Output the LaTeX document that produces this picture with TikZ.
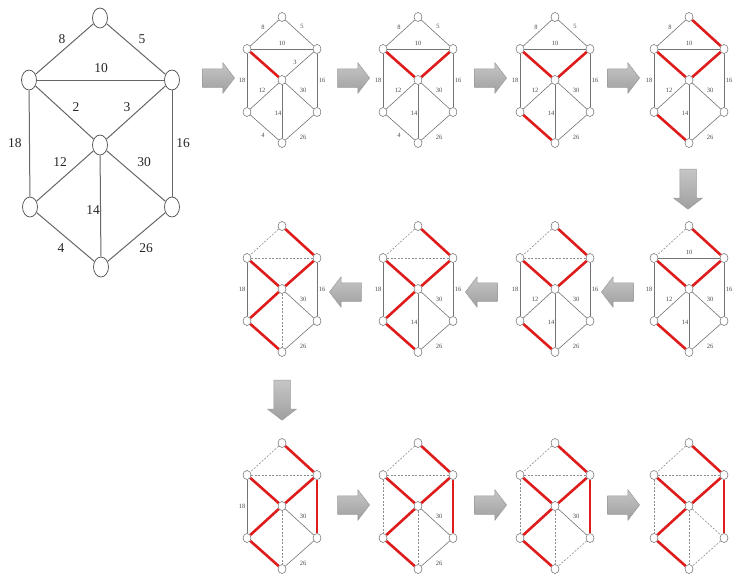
\documentclass[tikz,border=0pt]{standalone}
\usepackage{fontspec}
\setmainfont{Liberation Serif}
\usetikzlibrary{shapes.geometric,shapes.arrows,calc}
\definecolor{kred}{RGB}{222,28,28}
\tikzset{
 mv/.style={ellipse,draw=black!70,fill=white,line width=0.7pt,minimum width=15pt,minimum height=20pt,inner sep=0pt},
 me/.style={draw=black!60,line width=1pt},
 ml/.style={font=\fontsize{13.5}{14}\selectfont,text=black!85,inner sep=0pt},
 sv/.style={ellipse,draw=black!60,fill=white,line width=0.5pt,minimum width=8pt,minimum height=9pt,inner sep=0pt},
 ne/.style={draw=black!55,line width=0.6pt},
 re/.style={draw=kred,line width=2.6pt},
 de/.style={draw=black!45,line width=0.6pt,dash pattern=on 2pt off 1.5pt},
 sl/.style={font=\fontsize{6.5}{7}\selectfont,text=black!70,inner sep=0pt},
 ba/.style={single arrow,top color=gray!45,bottom color=gray!75,draw=gray!80,line width=0.5pt,minimum width=0pt,minimum height=32pt,single arrow head extend=6pt,single arrow tip angle=105,inner xsep=0pt,inner ysep=9pt}
}
\newcommand\kstep[4]{%
 \begin{scope}[shift={(#2,#3)}]
  \node[sv] (#1T) at (0,0) {};
  \node[sv] (#1UL) at (-35,32) {};
  \node[sv] (#1UR) at (35,32) {};
  \node[sv] (#1C) at (0,63) {};
  \node[sv] (#1LL) at (-35,95) {};
  \node[sv] (#1LR) at (35,95) {};
  \node[sv] (#1B) at (0,126) {};
  \foreach \ea/\eb/\ew/\isacc/\lx/\ly [count=\j] in {UL/C/2/1/-12/46, UR/C/3/1/13/45, LL/B/4/1/-19/118, T/UR/5/1/20/9, T/UL/8/0/-19/10, UL/UR/10/0/0/26, C/LL/12/1/-20/73, C/B/14/0/-4/96, UR/LR/16/1/40/63, UL/LL/18/0/-40/63, LR/B/26/0/21/120, C/LR/30/0/21/73}{
    \ifnum\j>#4\relax
      \draw[ne] (#1\ea) -- (#1\eb);
      \node[sl] (#1L\j) at (\lx,\ly) {\ew};
    \else
      \ifnum\isacc=1\relax \draw[re] (#1\ea) -- (#1\eb); \else \draw[de] (#1\ea) -- (#1\eb); \fi
    \fi
  }
 \end{scope}
}
\begin{document}
\begin{tikzpicture}[x=1pt,y=-1pt]
\useasboundingbox (0,0) rectangle (733,574);
% main graph
\node[mv] (T) at (100,18) {};
\node[mv] (UL) at (29,80) {};
\node[mv] (UR) at (172,80) {};
\node[mv] (C) at (100,145) {};
\node[mv] (LL) at (30,207) {};
\node[mv] (LR) at (172,207) {};
\node[mv] (B) at (101,267) {};
\draw[me] (T) -- (UL);
\draw[me] (T) -- (UR);
\draw[me] (UL) -- (UR);
\draw[me] (UL) -- (C);
\draw[me] (UR) -- (C);
\draw[me] (UL) -- (LL);
\draw[me] (UR) -- (LR);
\draw[me] (C) -- (LL);
\draw[me] (C) -- (LR);
\draw[me] (C) -- (B);
\draw[me] (LL) -- (B);
\draw[me] (LR) -- (B);
\node[ml] (w8) at (62,39) {8};
\node[ml] (w5) at (142,39) {5};
\node[ml] (w10) at (101,68) {10};
\node[ml] (w2) at (76,107) {2};
\node[ml] (w3) at (127,107) {3};
\node[ml] (w18) at (15,143) {18};
\node[ml] (w16) at (183,143) {16};
\node[ml] (w12) at (60,162) {12};
\node[ml] (w30) at (144,162) {30};
\node[ml] (w14) at (93,210) {14};
\node[ml] (w4) at (61,248) {4};
\node[ml] (w26) at (146,248) {26};
% steps
\kstep{sa}{282}{17}{1}
\kstep{sb}{418}{17}{2}
\kstep{sc}{555}{17}{3}
\kstep{sd}{689}{17}{4}
\kstep{se}{689}{226}{5}
\kstep{sf}{555}{226}{6}
\kstep{sg}{418}{226}{7}
\kstep{sh}{282}{226}{8}
\kstep{si}{282}{443}{9}
\kstep{sj}{418}{443}{10}
\kstep{sk}{555}{443}{11}
\kstep{sl}{689}{443}{12}
% arrows
\node[ba] (a1) at (215,78) {};
\node[ba] (a2) at (350,78) {};
\node[ba] (a3) at (487,78) {};
\node[ba] (a4) at (620,78) {};
\node[ba,minimum height=40pt,inner ysep=8pt,rotate=-90] (a5) at (688,186) {};
\node[ba,rotate=180] (a6) at (621,292) {};
\node[ba,rotate=180] (a7) at (485,292) {};
\node[ba,rotate=180] (a8) at (349,292) {};
\node[ba,minimum height=40pt,inner ysep=8pt,rotate=-90] (a9) at (282,397) {};
\node[ba] (a10) at (350,505) {};
\node[ba] (a11) at (487,505) {};
\node[ba] (a12) at (620,505) {};
\end{tikzpicture}
\end{document}
